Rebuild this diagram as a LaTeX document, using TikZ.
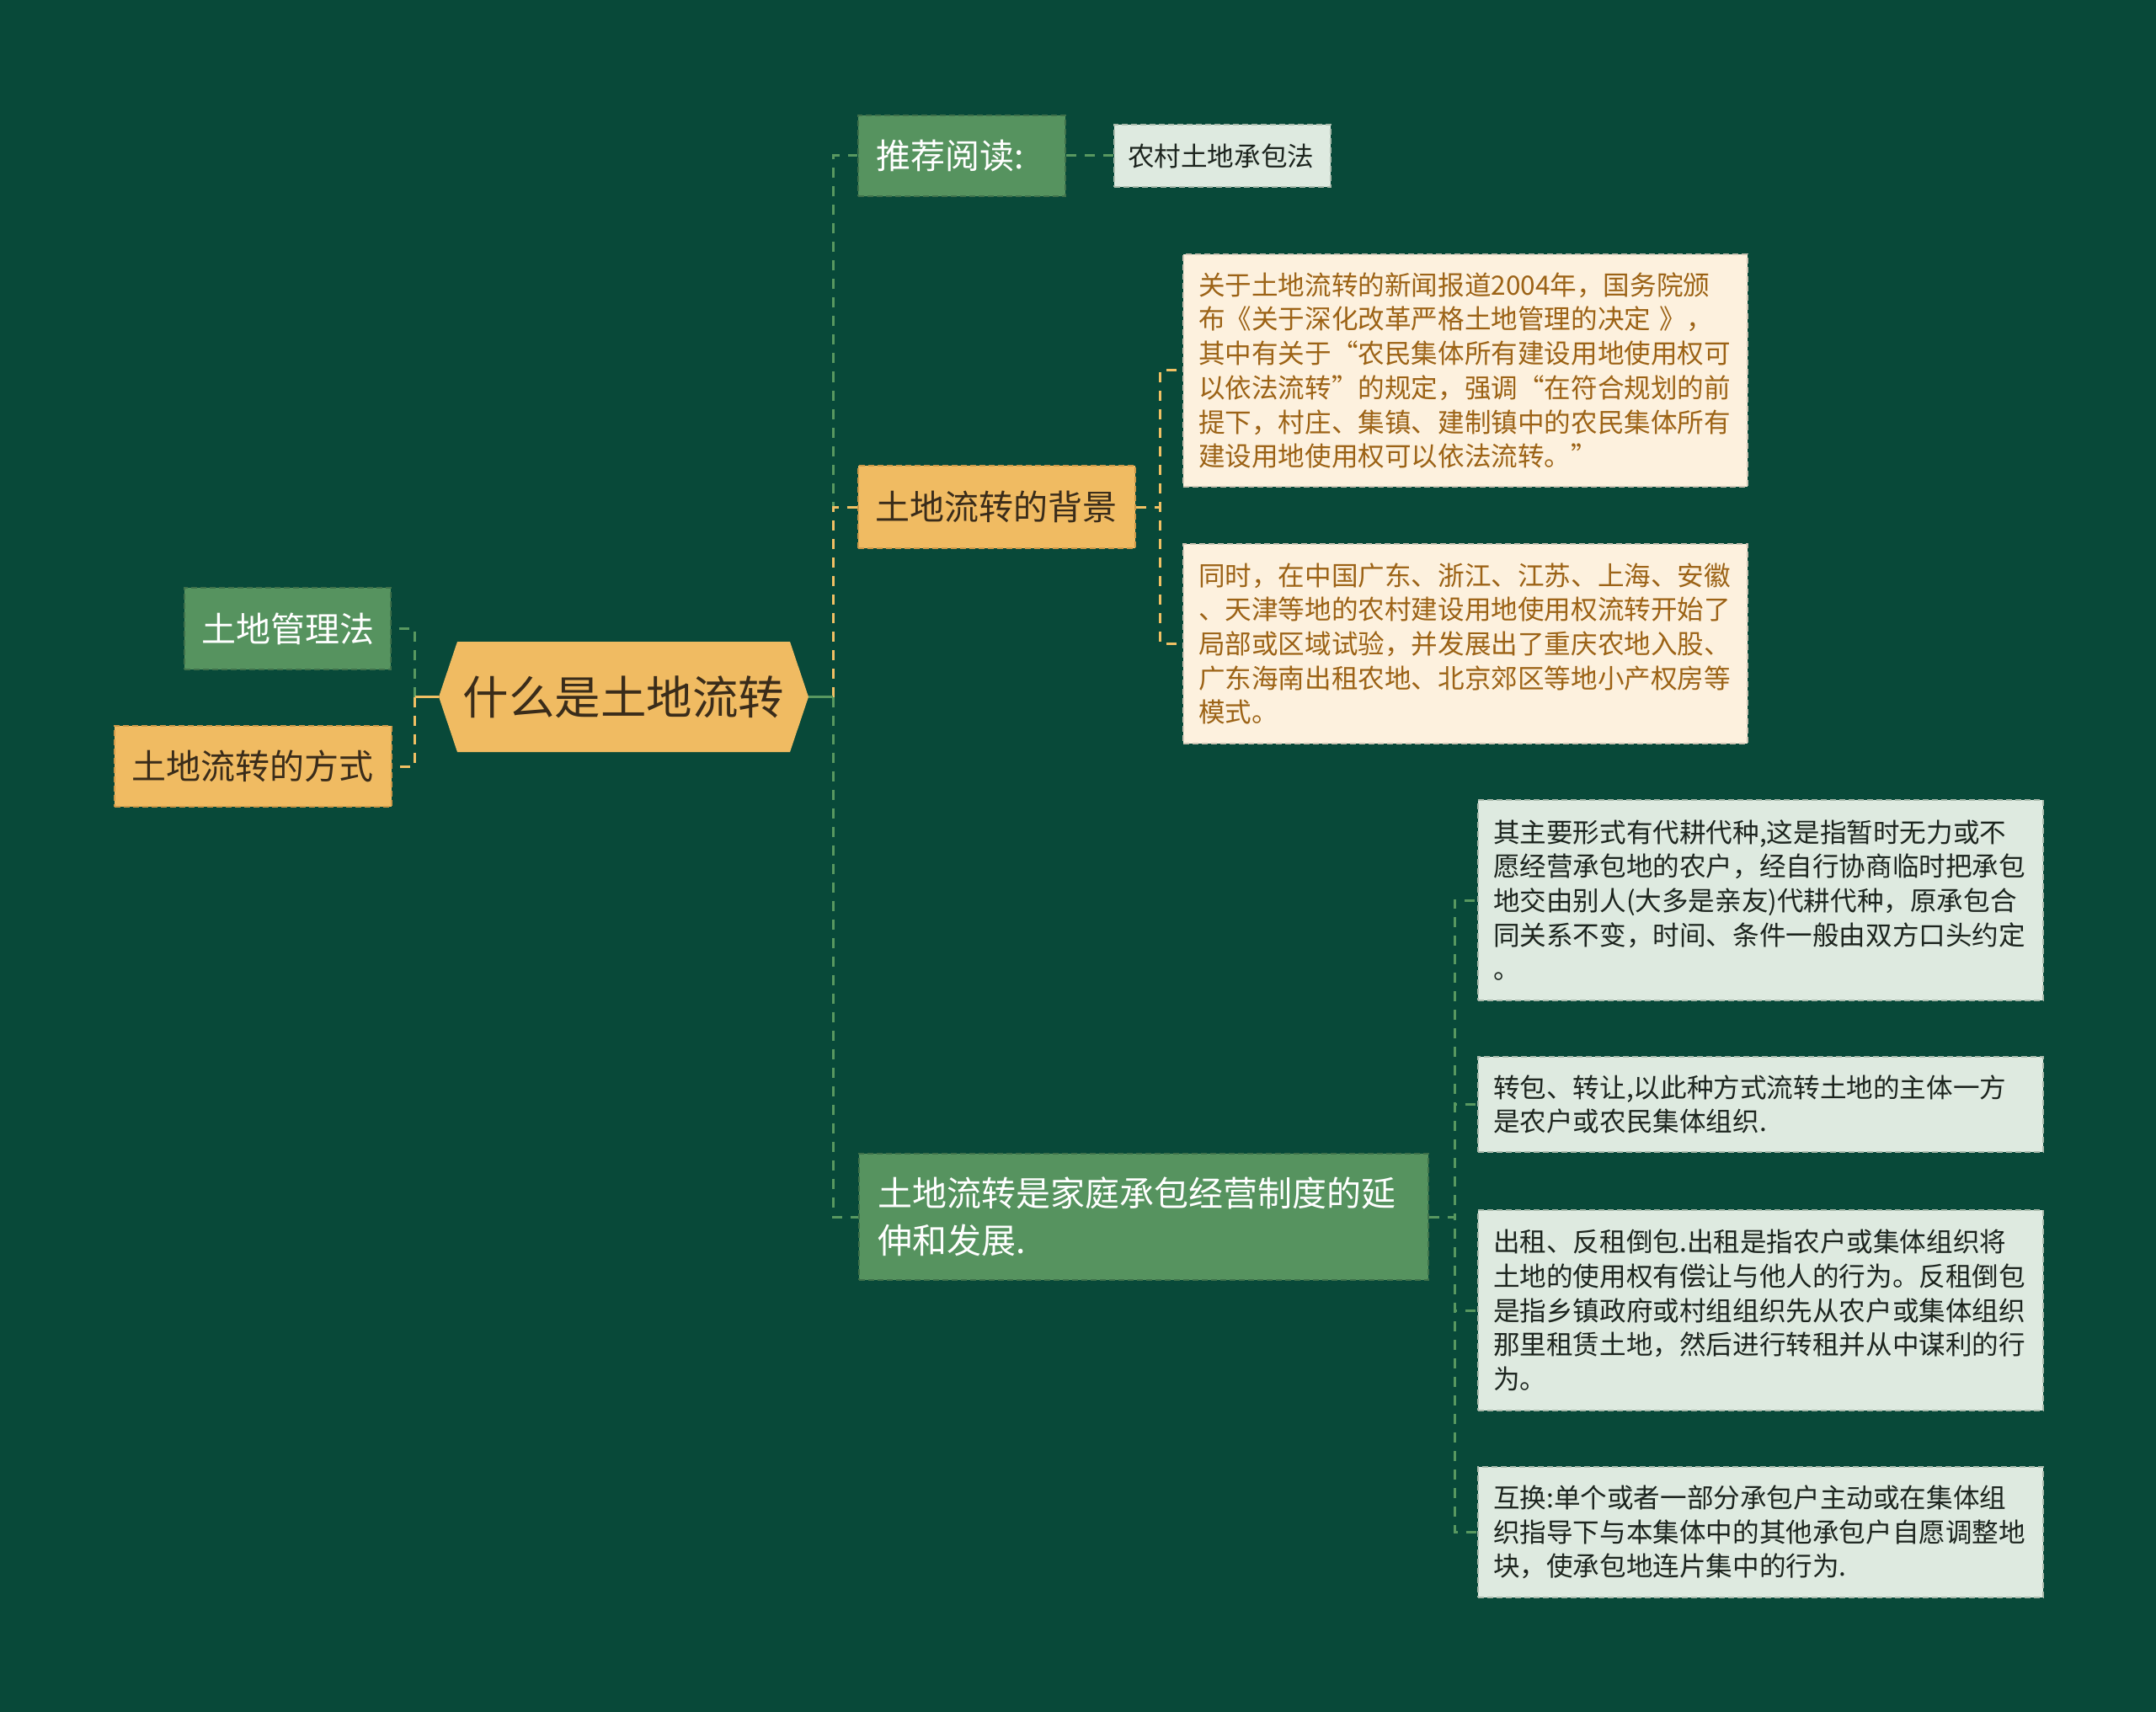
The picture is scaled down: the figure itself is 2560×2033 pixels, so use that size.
\documentclass[tikz,border=0pt]{standalone}
\usepackage{fontspec}
\setmainfont{Noto Sans CJK SC}
\definecolor{bgc}{RGB}{8,73,57}
\definecolor{gfill}{RGB}{86,147,95}
\definecolor{gborder}{RGB}{62,112,74}
\definecolor{ofill}{RGB}{240,187,98}
\definecolor{oborder}{RGB}{205,152,72}
\definecolor{bfill}{RGB}{253,241,222}
\definecolor{bborder}{RGB}{205,196,180}
\definecolor{lfill}{RGB}{222,234,224}
\definecolor{lborder}{RGB}{170,186,172}
\definecolor{darktext}{RGB}{58,44,26}
\definecolor{btext}{RGB}{156,99,22}
\definecolor{ltext}{RGB}{28,36,30}
\definecolor{cgreen}{RGB}{88,152,96}
\definecolor{corange}{RGB}{240,192,100}
\begin{document}
\begin{tikzpicture}[x=1pt,y=-1pt,
  box/.style={anchor=north west, inner xsep=18pt, inner ysep=0pt, align=left,
    line width=2pt, dash pattern=on 7pt off 4pt},
  gbox/.style={box, fill=gfill, draw=gborder, text=white, font=\fontsize{41}{56}\selectfont},
  obox/.style={box, fill=ofill, draw=oborder, text=darktext, font=\fontsize{41}{56}\selectfont},
  bbox/.style={box, fill=bfill, draw=bborder, text=btext, font=\fontsize{31.6}{40.7}\selectfont},
  lbox/.style={box, fill=lfill, draw=lborder, text=ltext, font=\fontsize{31.6}{40.7}\selectfont},
  rootnode/.style={inner sep=0pt, minimum width=439pt, minimum height=131pt, text=darktext,
    font=\fontsize{54.5}{60}\selectfont},
  conn/.style={line width=3pt, dash pattern=on 12pt off 10pt},
  stub/.style={line width=3pt}
]
\fill[bgc] (0,0) rectangle (2560,2033);
\useasboundingbox (0,0) rectangle (2560,2033);

% root hexagon
\fill[ofill] (521,827.5) -- (543,762) -- (938,762) -- (960,827.5) -- (938,893) -- (543,893) -- cycle;
\node[rootnode] (root) at (740.5,827.5) {什么是土地流转};

% level 1 nodes
\node[gbox, text width=204pt, inner xsep=21pt, minimum height=96pt] (rec) at (1018,136) {推荐阅读:};
\node[lbox, text width=225pt, inner xsep=16pt, minimum height=74pt] (law) at (1322,147) {农村土地承包法};
\node[obox, text width=289pt, inner xsep=20pt, minimum height=98pt] (bg) at (1018,552) {土地流转的背景};
\node[bbox, text width=634pt, minimum height=276pt] (t1) at (1404,301) {关于土地流转的新闻报道2004年，国务院颁\\布《关于深化改革严格土地管理的决定 》，\\其中有关于“农民集体所有建设用地使用权可\\以依法流转”的规定，强调“在符合规划的前\\提下，村庄、集镇、建制镇中的农民集体所有\\建设用地使用权可以依法流转。”};
\node[bbox, text width=634pt, minimum height=237pt] (t2) at (1404,645) {同时，在中国广东、浙江、江苏、上海、安徽\\、天津等地的农村建设用地使用权流转开始了\\局部或区域试验，并发展出了重庆农地入股、\\广东海南出租农地、北京郊区等地小产权房等\\模式。};
\node[gbox, text width=205pt, inner xsep=20pt, minimum height=97pt] (glaw) at (218,697) {土地管理法};
\node[obox, text width=289pt, inner xsep=20pt, minimum height=96pt] (way) at (135,861) {土地流转的方式};
\node[gbox, text width=632pt, inner xsep=22pt, minimum height=150pt] (ext) at (1019,1369) {土地流转是家庭承包经营制度的延\\伸和发展.};
\node[lbox, text width=635pt, minimum height=238pt] (ra) at (1754,949) {其主要形式有代耕代种,这是指暂时无力或不\\愿经营承包地的农户，经自行协商临时把承包\\地交由别人(大多是亲友)代耕代种，原承包合\\同关系不变，时间、条件一般由双方口头约定\\。};
\node[lbox, text width=635pt, minimum height=113pt] (rb) at (1754,1254) {转包、转让,以此种方式流转土地的主体一方\\是农户或农民集体组织.};
\node[lbox, text width=635pt, minimum height=238pt] (rc) at (1754,1436) {出租、反租倒包.出租是指农户或集体组织将\\土地的使用权有偿让与他人的行为。反租倒包\\是指乡镇政府或村组组织先从农户或集体组织\\那里租赁土地，然后进行转租并从中谋利的行\\为。};
\node[lbox, text width=635pt, minimum height=155pt] (rd) at (1754,1741) {互换:单个或者一部分承包户主动或在集体组\\织指导下与本集体中的其他承包户自愿调整地\\块，使承包地连片集中的行为.};

% connectors from root (right)
\draw[conn, cgreen] ([xshift=29pt]root.east) |- (rec.west);
\draw[conn, cgreen] ([xshift=29pt]root.east) |- (ext.west);
\draw[conn, corange] ([xshift=29pt]root.east) |- (bg.west);
\draw[stub, cgreen] (root.east) -- ++(29,0);
% connectors from root (left)
\draw[conn, cgreen] ([xshift=-28pt]root.west) |- (glaw.east);
\draw[conn, corange] ([xshift=-28pt]root.west) |- (way.east);
\draw[stub, corange] (root.west) -- ++(-28,0);
% rec -> law
\draw[conn, cgreen] (rec.east) -- (law.west);
% bg -> texts
\draw[conn, corange] (bg.east) -- ++(28,0) |- (t1.west);
\draw[conn, corange] (bg.east) -- ++(28,0) |- (t2.west);
% ext -> right boxes
\draw[conn, cgreen] (ext.east) -- ++(30,0) |- (ra.west);
\draw[conn, cgreen] (ext.east) -- ++(30,0) |- (rb.west);
\draw[conn, cgreen] (ext.east) -- ++(30,0) |- (rc.west);
\draw[conn, cgreen] (ext.east) -- ++(30,0) |- (rd.west);
\end{tikzpicture}
\end{document}
